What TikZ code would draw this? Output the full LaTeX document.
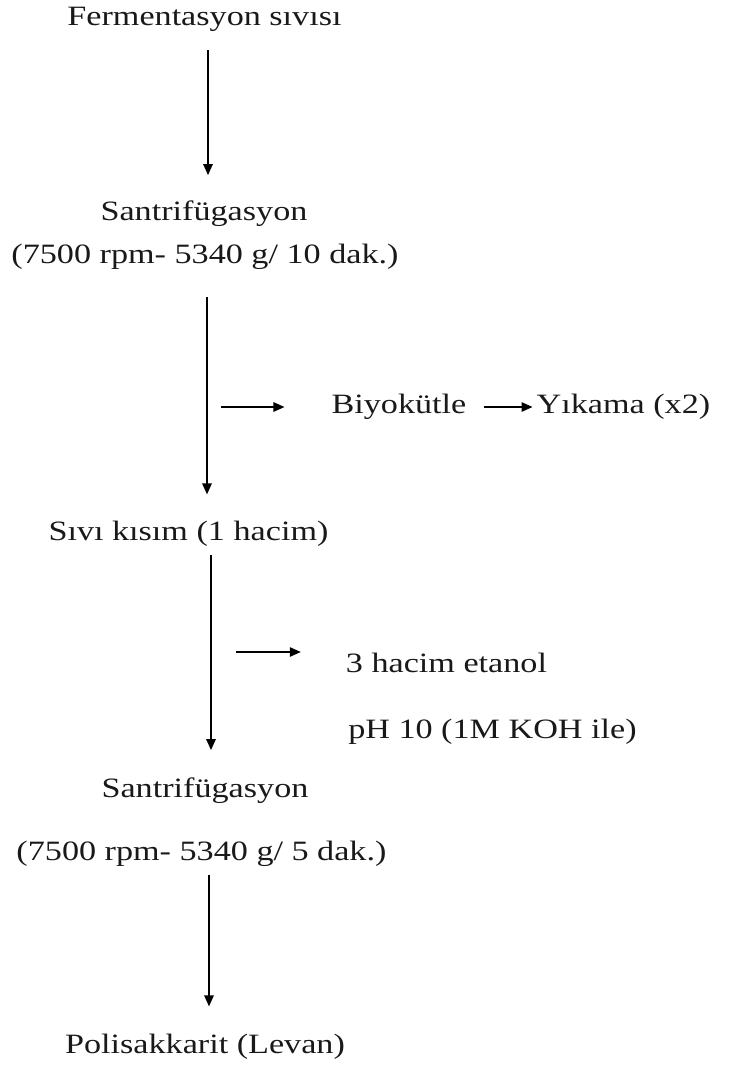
\documentclass[tikz,border=0pt]{standalone}
\usepackage{fontspec}
\setmainfont{Liberation Serif}[FakeStretch=1.22]
\usetikzlibrary{arrows.meta}
\begin{document}
\begin{tikzpicture}[x=1pt,y=-1pt,
  txt/.style={inner sep=0pt,anchor=base,text=black!90,font=\fontsize{28}{32}\selectfont},
  arr/.style={-{Triangle[length=11pt,width=9.5pt]},line width=1.4pt}]
\useasboundingbox[fill=white] (0,0) rectangle (748,1073);
\node[txt] (ferm) at (204.5,26) {Fermentasyon sıvısı};
\node[txt] (santr1) at (204,220) {Santrifügasyon};
\node[txt] (cond1) at (205,263) {(7500 rpm- 5340 g/ 10 dak.)};
\node[txt] (biyo) at (399,413) {Biyokütle};
\node[txt] (yik) at (623.5,413) {Yıkama (x2)};
\node[txt] (sivi) at (188.5,540) {Sıvı kısım (1 hacim)};
\node[txt] (etanol) at (446.5,672) {3 hacim etanol};
\node[txt] (ph) at (492.5,738) {pH 10 (1M KOH ile)};
\node[txt] (santr2) at (205,797) {Santrifügasyon};
\node[txt] (cond2) at (201.5,860) {(7500 rpm- 5340 g/ 5 dak.)};
\node[txt] (poli) at (205,1053) {Polisakkarit (Levan)};

\draw[arr,shorten <=18pt,shorten >=25pt] ([xshift=3.5pt]ferm.south) -- ([xshift=4pt]santr1.north);
\draw[arr,shorten <=28pt,shorten >=26pt] ([xshift=2pt]cond1.south) -- ([xshift=18.5pt]sivi.north);
\draw[arr] ([xshift=-110pt,yshift=6pt]biyo.base west) -- ([xshift=-47pt,yshift=6pt]biyo.base west);
\draw[arr,shorten <=17pt,shorten >=4pt] ([yshift=6pt]biyo.base east) -- ([yshift=6pt]yik.base west);
\draw[arr,shorten <=9pt,shorten >=27pt] ([xshift=22.5pt]sivi.south) -- ([xshift=6pt]santr2.north);
\draw[arr] ([xshift=-110pt,yshift=20pt]etanol.base west) -- ([xshift=-45pt,yshift=20pt]etanol.base west);
\draw[arr,shorten <=9pt,shorten >=27pt] ([xshift=7.5pt]cond2.south) -- ([xshift=4pt]poli.north);
\end{tikzpicture}
\end{document}
